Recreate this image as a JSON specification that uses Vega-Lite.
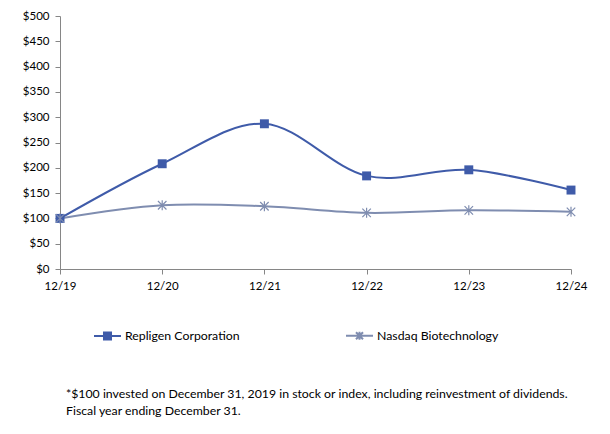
{
  "$schema": "https://vega.github.io/schema/vega-lite/v6.json",
  "autosize": "none",
  "width": 511,
  "height": 253,
  "padding": {"left": 60, "top": 16, "right": 39, "bottom": 165},
  "background": "white",
  "config": {
    "view": {"stroke": null},
    "font": "Lato",
    "axis": {"labelFont": "Lato", "labelFontSize": 11.5, "labelColor": "#000000", "domainColor": "#868686", "tickColor": "#868686", "grid": false, "title": null}
  },
  "title": {
    "text": ["*$100 invested on December 31, 2019 in stock or index, including reinvestment of dividends.", "Fiscal year ending December 31."],
    "orient": "bottom",
    "anchor": "start",
    "frame": "group",
    "dx": 6,
    "offset": 44,
    "font": "Lato",
    "fontSize": 12.3,
    "fontWeight": "normal",
    "color": "#000000",
    "lineHeight": 17
  },
  "data": {
    "values": [
      {"year": "12/19", "series": "Repligen Corporation", "value": 100},
      {"year": "12/20", "series": "Repligen Corporation", "value": 208},
      {"year": "12/21", "series": "Repligen Corporation", "value": 287},
      {"year": "12/22", "series": "Repligen Corporation", "value": 184},
      {"year": "12/23", "series": "Repligen Corporation", "value": 196},
      {"year": "12/24", "series": "Repligen Corporation", "value": 156},
      {"year": "12/19", "series": "Nasdaq Biotechnology", "value": 100},
      {"year": "12/20", "series": "Nasdaq Biotechnology", "value": 126},
      {"year": "12/21", "series": "Nasdaq Biotechnology", "value": 124},
      {"year": "12/22", "series": "Nasdaq Biotechnology", "value": 111},
      {"year": "12/23", "series": "Nasdaq Biotechnology", "value": 116},
      {"year": "12/24", "series": "Nasdaq Biotechnology", "value": 113}
    ]
  },
  "encoding": {
    "x": {"field": "year", "type": "ordinal", "scale": {"type": "point", "padding": 0},
      "axis": {"labelAngle": 0, "tickSize": 5, "labelPadding": 6, "domainWidth": 1}},
    "y": {"field": "value", "type": "quantitative", "scale": {"domain": [0, 500], "nice": false},
      "axis": {"values": [0, 50, 100, 150, 200, 250, 300, 350, 400, 450, 500], "labelExpr": "'$' + datum.value", "tickSize": 5, "labelPadding": 6}}
  },
  "layer": [
    {
      "mark": {"type": "line", "interpolate": "cardinal", "tension": 0, "strokeWidth": 2},
      "encoding": {
        "color": {"field": "series", "type": "nominal",
          "scale": {"domain": ["Repligen Corporation", "Nasdaq Biotechnology"], "range": ["#3F5BA9", "#7F8DB0"]},
          "legend": {
            "title": null,
            "orient": "none",
            "legendX": 33,
            "legendY": 305,
            "direction": "horizontal",
            "columns": 2,
            "columnPadding": 102,
            "labelFont": "Lato",
            "labelFontSize": 12.3,
            "labelColor": "#000000",
            "labelOffset": 3,
            "symbolSize": 729,
            "symbolStrokeWidth": 2,
            "padding": 0,
            "encode": {
              "symbols": {
                "update": {
                  "shape": {"signal": "datum.value === 'Repligen Corporation' ? 'M-1,0H1M-0.26,-0.26H0.26V0.26H-0.26Z' : 'M-1,0H1M0,-0.3V0.3M-0.26,-0.26L0.26,0.26M-0.26,0.26L0.26,-0.26'"},
                  "fill": {"signal": "datum.value === 'Repligen Corporation' ? '#3F5BA9' : 'transparent'"}
                }
              }
            }
          }
        }
      }
    },
    {
      "transform": [{"filter": "datum.series === 'Repligen Corporation'"}],
      "mark": {"type": "point", "shape": "square", "filled": true, "size": 80, "color": "#3F5BA9", "opacity": 1}
    },
    {
      "transform": [{"filter": "datum.series === 'Nasdaq Biotechnology'"}],
      "mark": {"type": "point", "shape": "M0,-1V1M-0.85,-0.85L0.85,0.85M-0.85,0.85L0.85,-0.85", "filled": false, "size": 100, "color": "#7F8DB0", "strokeWidth": 1.2, "opacity": 1}
    }
  ]
}
